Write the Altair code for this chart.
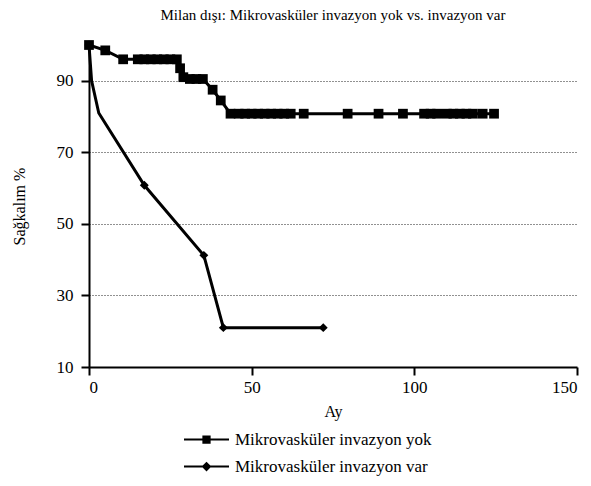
import altair as alt
import pandas as pd

S_YOK = "Mikrovasküler invazyon yok"
S_VAR = "Mikrovasküler invazyon var"

yok_x = [0, 5, 10.5, 15, 17, 19, 21, 23, 25, 27, 28, 29, 31, 33, 35, 38, 40.5, 43.5,
         46, 48, 50, 52, 54, 56, 58, 60, 62, 66, 79.5, 89, 96.5,
         103, 105, 107, 110, 112, 114, 116, 118, 121, 124.5]
yok_y = [100, 98.5, 96, 96, 96, 96, 96, 96, 96, 96, 93.5, 91, 90.5, 90.5, 90.5, 87.5, 84.5, 80.8,
         80.8, 80.8, 80.8, 80.8, 80.8, 80.8, 80.8, 80.8, 80.8, 80.8, 80.8, 80.8, 80.8,
         80.8, 80.8, 80.8, 80.8, 80.8, 80.8, 80.8, 80.8, 80.8, 80.8]
yok_mark = [1] * len(yok_x)

var_x = [0, 0.8, 3, 17, 35.3, 41.3, 72]
var_y = [100, 90, 81, 60.8, 41.2, 21, 21]
var_mark = [1, 0, 0, 1, 1, 1, 1]

x_ticks = [0, 50, 100, 150]
y_ticks = [10, 30, 50, 70, 90]

df = pd.concat([
    pd.DataFrame({"ay": yok_x, "sag": yok_y, "seri": S_YOK, "o": range(len(yok_x)), "m": yok_mark}),
    pd.DataFrame({"ay": var_x, "sag": var_y, "seri": S_VAR, "o": range(len(var_x)), "m": var_mark}),
])

FONT = "Liberation Serif"

x = alt.X("ay:Q", title="Ay",
          scale=alt.Scale(domain=[0, 150], nice=False, zero=False),
          axis=alt.Axis(values=x_ticks, grid=False, tickSize=8, labelPadding=4,
                        titlePadding=8, domainColor="black", domainWidth=2,
                        tickColor="black", tickWidth=2, labelFontSize=17,
                        titleFontSize=16, titleFontWeight="normal",
                        labelColor="black", titleColor="black"))
y = alt.Y("sag:Q", title="Sağkalım %",
          scale=alt.Scale(domain=[10, 100], nice=False, zero=False),
          axis=alt.Axis(values=y_ticks, grid=True, gridDash=[1, 2], gridColor="#222",
                        gridWidth=1, tickSize=8, labelPadding=8, titlePadding=29,
                        domainColor="black", domainWidth=2, tickColor="black",
                        tickWidth=2, labelFontSize=17, titleFontSize=16,
                        titleFontWeight="normal", labelColor="black",
                        titleColor="black"))

lines = alt.Chart(df).mark_line(color="black", strokeWidth=3).encode(
    x=x, y=y, detail="seri:N", order="o:Q")

points = alt.Chart(df).transform_filter("datum.m == 1").mark_point(
    filled=True, color="black", opacity=1).encode(
    x=x, y=y,
    shape=alt.Shape("seri:N",
                    scale=alt.Scale(domain=[S_YOK, S_VAR], range=["square", "diamond"]),
                    legend=None),
    size=alt.Size("seri:N", scale=alt.Scale(domain=[S_YOK, S_VAR], range=[95, 80]),
                  legend=None),
)

sq_leg = "M-3,-0.14L3,-0.14L3,0.14L-3,0.14ZM-0.55,-0.55L0.55,-0.55L0.55,0.55L-0.55,0.55Z"
di_leg = "M-3,-0.14L3,-0.14L3,0.14L-3,0.14ZM0,-0.65L0.65,0L0,0.65L-0.65,0Z"

legend_layer = alt.Chart(df).transform_filter("false").mark_point(
    filled=True, color="black", opacity=1).encode(
    x=x, y=y,
    shape=alt.Shape("seri:N",
                    scale=alt.Scale(domain=[S_YOK, S_VAR], range=[sq_leg, di_leg]),
                    legend=alt.Legend(
                        title=None, orient="none", legendX=109, legendY=386,
                        direction="vertical", symbolSize=225, labelOffset=20,
                        rowPadding=9, padding=0, labelFontSize=17, labelColor="black",
                        labelLimit=400, symbolStrokeWidth=0,
                        symbolFillColor="black", symbolOpacity=1)),
)

chart = alt.layer(lines, points, legend_layer).resolve_scale(
    shape="independent", size="independent"
).resolve_legend(shape="independent").properties(
    width=488, height=322,
    autosize=alt.AutoSizeParams(type="none"),
    padding={"left": 81, "top": 37, "right": 6, "bottom": 111},
    title=alt.Title("Milan dışı: Mikrovasküler invazyon yok vs. invazyon var",
                    fontSize=15, fontWeight="normal", color="black", offset=16),
).configure(font=FONT).configure_view(stroke=None)

chart.save("out.html", embed_options={"renderer": "svg", "actions": False})
